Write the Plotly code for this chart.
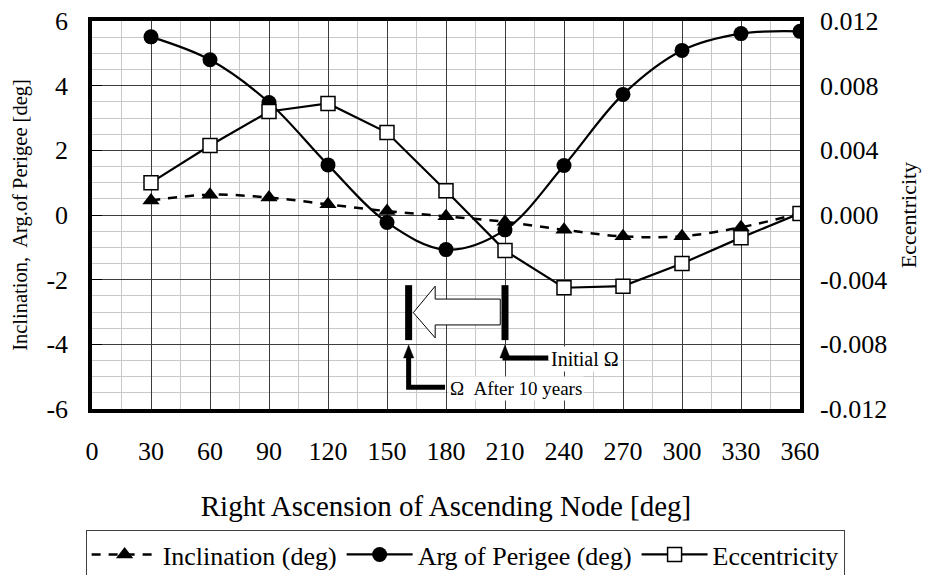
import plotly.graph_objects as go

# Right ascension of the ascending node sampled every 30 deg
RAAN = [30, 60, 90, 120, 150, 180, 210, 240, 270, 300, 330, 360]

# Element changes over ten years (left axis: deg, right axis: eccentricity)
INCLINATION = [0.45, 0.63, 0.54, 0.33, 0.12, -0.04, -0.21, -0.46, -0.66, -0.66, -0.38, 0.05]
ARG_PERIGEE = [5.51, 4.80, 3.48, 1.55, -0.23, -1.07, -0.46, 1.53, 3.73, 5.09, 5.61, 5.68]
ECCENTRICITY = [0.0020, 0.0043, 0.0064, 0.0069, 0.0051, 0.0015,
                -0.0022, -0.0045, -0.0044, -0.0030, -0.0014, 0.0001]

# Node drift: initial RAAN and RAAN after 10 years
RAAN_INITIAL = 210
RAAN_AFTER_10Y = 161

# Axis ticks
X_TICKS = [0, 30, 60, 90, 120, 150, 180, 210, 240, 270, 300, 330, 360]
LEFT_TICK_VALS = [-6, -4, -2, 0, 2, 4, 6]
LEFT_TICK_TEXT = ["-6", "-4", "-2", "0", "2", "4", "6"]
RIGHT_TICK_VALS = [-0.012, -0.008, -0.004, 0.0, 0.004, 0.008, 0.012]
RIGHT_TICK_TEXT = ["-0.012", "-0.008", "-0.004", "0.000", "0.004", "0.008", "0.012"]

FONT = "Liberation Serif, serif"
MAJOR_GRID = "#3c3c3c"
MINOR_GRID = "#c8c8c8"

fig = go.Figure()

fig.add_trace(go.Scatter(
    x=RAAN, y=INCLINATION, name="Inclination (deg)", mode="lines+markers",
    line=dict(color="black", width=2.5, dash="9px,8px", shape="spline", smoothing=1),
    marker=dict(symbol="triangle-up", size=15, color="black"),
))
fig.add_trace(go.Scatter(
    x=RAAN, y=ARG_PERIGEE, name="Arg of Perigee (deg)", mode="lines+markers",
    line=dict(color="black", width=2.2, shape="spline", smoothing=1),
    marker=dict(symbol="circle", size=15, color="black"),
))
fig.add_trace(go.Scatter(
    x=RAAN, y=ECCENTRICITY, name="Eccentricity", mode="lines+markers", yaxis="y2",
    line=dict(color="black", width=2.2),
    marker=dict(symbol="square", size=14, color="white", line=dict(color="black", width=1.5)),
))

# --- Node-drift sketch: RAAN markers, hollow arrow and call-outs ---
shapes = []
bar_top, bar_bot = -2.17, -3.87
for xv in (RAAN_AFTER_10Y, RAAN_INITIAL):
    shapes.append(dict(type="line", xref="x", yref="y", x0=xv, x1=xv, y0=bar_top, y1=bar_bot,
                       line=dict(color="black", width=7)))

mid = (bar_top + bar_bot) / 2
tip_x = RAAN_AFTER_10Y + 2.4
head_x = RAAN_AFTER_10Y + 13.5
tail_x = RAAN_INITIAL - 2.4
arrow_path = (f"M {tip_x},{mid} L {head_x},{mid + 0.82} L {head_x},{mid + 0.42} "
              f"L {tail_x},{mid + 0.42} L {tail_x},{mid - 0.38} L {head_x},{mid - 0.38} "
              f"L {head_x},{mid - 0.78} Z")
shapes.append(dict(type="path", xref="x", yref="y", path=arrow_path,
                   fillcolor="white", line=dict(color="black", width=1)))

tip_y, head_base = -4.02, -4.42
for xv, elbow_y, end_x in ((RAAN_AFTER_10Y, -5.33, 179.5), (RAAN_INITIAL, -4.42, 232.0)):
    shapes.append(dict(type="path", xref="x", yref="y",
                       path=f"M {xv},{head_base + 0.05} L {xv},{elbow_y} L {end_x},{elbow_y}",
                       line=dict(color="black", width=5)))
    shapes.append(dict(type="path", xref="x", yref="y",
                       path=f"M {xv - 2.6},{head_base} L {xv},{tip_y} L {xv + 2.6},{head_base} Z",
                       fillcolor="black", line=dict(color="black", width=0.5)))

annotations = [
    dict(x=232.5, y=-4.45, xref="x", yref="y", text="Initial \u03a9", showarrow=False,
         xanchor="left", yanchor="middle", bgcolor="white", borderpad=1,
         font=dict(family=FONT, size=20, color="black")),
    dict(x=181.0, y=-5.36, xref="x", yref="y", text="\u03a9\u00a0 After 10 years", showarrow=False,
         xanchor="left", yanchor="middle", bgcolor="white", borderpad=1,
         font=dict(family=FONT, size=19, color="black")),
]

fig.update_layout(
    width=938, height=575,
    margin=dict(l=92, r=138, t=21, b=166, autoexpand=False),
    paper_bgcolor="white", plot_bgcolor="white",
    font=dict(family=FONT, size=26, color="black"),
    showlegend=True,
    legend=dict(orientation="h", x=-0.009, xanchor="left", y=-0.312, yanchor="top",
                bordercolor="#404040", borderwidth=1, bgcolor="white",
                font=dict(family=FONT, size=26, color="black"),
                itemwidth=66, tracegroupgap=0),
    xaxis=dict(
        range=[0, 360], tickmode="array", tickvals=X_TICKS, ticktext=[str(v) for v in X_TICKS],
        showgrid=True, gridcolor=MAJOR_GRID, gridwidth=1,
        minor=dict(tickmode="linear", tick0=0, dtick=15, showgrid=True, gridcolor=MINOR_GRID, gridwidth=1),
        showline=True, linecolor="black", linewidth=3.5, mirror=True,
        ticks="", zeroline=False, ticklabelstandoff=16,
        tickfont=dict(family=FONT, size=26),
        title=dict(text="Right Ascension of Ascending Node [deg]", standoff=32,
                   font=dict(family=FONT, size=29)),
    ),
    yaxis=dict(
        range=[-6, 6], tickmode="array", tickvals=LEFT_TICK_VALS, ticktext=LEFT_TICK_TEXT,
        showgrid=True, gridcolor=MAJOR_GRID, gridwidth=1,
        minor=dict(tickmode="linear", tick0=0, dtick=0.5, showgrid=True, gridcolor=MINOR_GRID, gridwidth=1),
        showline=True, linecolor="black", linewidth=3.5, mirror=True,
        ticks="inside", ticklen=10, tickcolor="black", zeroline=False, ticklabelstandoff=15,
        tickfont=dict(family=FONT, size=26),
        title=dict(text="Inclination,\u00a0 Arg.of Perigee [deg]", standoff=14,
                   font=dict(family=FONT, size=20.5)),
    ),
    yaxis2=dict(
        range=[-0.012, 0.012], overlaying="y", side="right", tickmode="array",
        tickvals=RIGHT_TICK_VALS, ticktext=RIGHT_TICK_TEXT,
        showgrid=False, zeroline=False, showline=False, ticks="", ticklabelstandoff=19,
        tickfont=dict(family=FONT, size=26),
        title=dict(text="Eccentricity", standoff=14, font=dict(family=FONT, size=22)),
    ),
    shapes=shapes,
    annotations=annotations,
)

fig.write_html("out.html")
